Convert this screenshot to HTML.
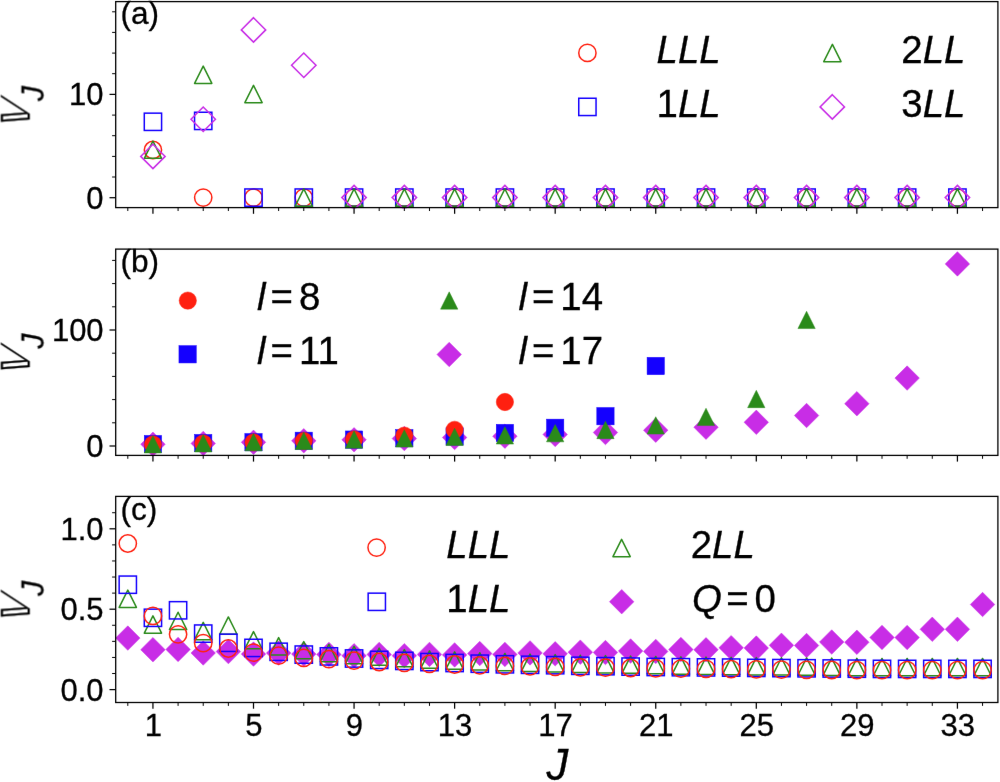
<!DOCTYPE html>
<html lang="en"><head><meta charset="utf-8"><title>Pseudopotentials V_J versus J</title>
<style>
html,body{margin:0;padding:0;background:#fff}
body{width:1000px;height:782px;overflow:hidden}
svg{display:block;will-change:transform}
text{font-family:"Liberation Sans",sans-serif;fill:#000;stroke:#000;stroke-width:0.3px}
.tk{font-size:31px}
.pl{font-size:31.6px}
.lg{font-size:38.4px}
.it{font-style:italic}
.xl{font-size:43.5px;font-style:italic}
.sub{font-size:30px;font-style:italic}
.bb{font-family:"DejaVu Sans","Liberation Sans",sans-serif;font-size:39.4px}
</style></head><body>
<svg width="1000" height="782" viewBox="0 0 1000 782">
<rect width="1000" height="782" fill="#fff"/>
<filter id="soft" filterUnits="userSpaceOnUse" x="0" y="0" width="1000" height="782" color-interpolation-filters="sRGB"><feConvolveMatrix order="3" kernelMatrix="0.00163 0.03713 0.00163 0.03713 0.84497 0.03713 0.00163 0.03713 0.00163" divisor="1" edgeMode="duplicate" preserveAlpha="true"/></filter>
<g filter="url(#soft)">
<rect width="1000" height="782" fill="#fff"/>
<clipPath id="ca"><rect x="115.7" y="1.6" width="882.1999999999999" height="207.0"/></clipPath>
<g clip-path="url(#ca)">
<circle cx="152.94" cy="150.00" r="8.65" fill="none" stroke="#ff2010" stroke-width="1.5"/>
<circle cx="203.22" cy="197.60" r="8.65" fill="none" stroke="#ff2010" stroke-width="1.5"/>
<circle cx="253.50" cy="197.60" r="8.65" fill="none" stroke="#ff2010" stroke-width="1.5"/>
<circle cx="303.78" cy="197.60" r="8.65" fill="none" stroke="#ff2010" stroke-width="1.5"/>
<circle cx="354.06" cy="197.60" r="8.65" fill="none" stroke="#ff2010" stroke-width="1.5"/>
<circle cx="404.34" cy="197.60" r="8.65" fill="none" stroke="#ff2010" stroke-width="1.5"/>
<circle cx="454.62" cy="197.60" r="8.65" fill="none" stroke="#ff2010" stroke-width="1.5"/>
<circle cx="504.90" cy="197.60" r="8.65" fill="none" stroke="#ff2010" stroke-width="1.5"/>
<circle cx="555.18" cy="197.60" r="8.65" fill="none" stroke="#ff2010" stroke-width="1.5"/>
<circle cx="605.46" cy="197.60" r="8.65" fill="none" stroke="#ff2010" stroke-width="1.5"/>
<circle cx="655.74" cy="197.60" r="8.65" fill="none" stroke="#ff2010" stroke-width="1.5"/>
<circle cx="706.02" cy="197.60" r="8.65" fill="none" stroke="#ff2010" stroke-width="1.5"/>
<circle cx="756.30" cy="197.60" r="8.65" fill="none" stroke="#ff2010" stroke-width="1.5"/>
<circle cx="806.58" cy="197.60" r="8.65" fill="none" stroke="#ff2010" stroke-width="1.5"/>
<circle cx="856.86" cy="197.60" r="8.65" fill="none" stroke="#ff2010" stroke-width="1.5"/>
<circle cx="907.14" cy="197.60" r="8.65" fill="none" stroke="#ff2010" stroke-width="1.5"/>
<circle cx="957.42" cy="197.60" r="8.65" fill="none" stroke="#ff2010" stroke-width="1.5"/>
<rect x="144.29" y="113.15" width="17.3" height="17.3" fill="none" stroke="#1400ff" stroke-width="1.5"/>
<rect x="194.57" y="112.25" width="17.3" height="17.3" fill="none" stroke="#1400ff" stroke-width="1.5"/>
<rect x="244.85" y="188.95" width="17.3" height="17.3" fill="none" stroke="#1400ff" stroke-width="1.5"/>
<rect x="295.13" y="188.95" width="17.3" height="17.3" fill="none" stroke="#1400ff" stroke-width="1.5"/>
<rect x="345.41" y="188.95" width="17.3" height="17.3" fill="none" stroke="#1400ff" stroke-width="1.5"/>
<rect x="395.69" y="188.95" width="17.3" height="17.3" fill="none" stroke="#1400ff" stroke-width="1.5"/>
<rect x="445.97" y="188.95" width="17.3" height="17.3" fill="none" stroke="#1400ff" stroke-width="1.5"/>
<rect x="496.25" y="188.95" width="17.3" height="17.3" fill="none" stroke="#1400ff" stroke-width="1.5"/>
<rect x="546.53" y="188.95" width="17.3" height="17.3" fill="none" stroke="#1400ff" stroke-width="1.5"/>
<rect x="596.81" y="188.95" width="17.3" height="17.3" fill="none" stroke="#1400ff" stroke-width="1.5"/>
<rect x="647.09" y="188.95" width="17.3" height="17.3" fill="none" stroke="#1400ff" stroke-width="1.5"/>
<rect x="697.37" y="188.95" width="17.3" height="17.3" fill="none" stroke="#1400ff" stroke-width="1.5"/>
<rect x="747.65" y="188.95" width="17.3" height="17.3" fill="none" stroke="#1400ff" stroke-width="1.5"/>
<rect x="797.93" y="188.95" width="17.3" height="17.3" fill="none" stroke="#1400ff" stroke-width="1.5"/>
<rect x="848.21" y="188.95" width="17.3" height="17.3" fill="none" stroke="#1400ff" stroke-width="1.5"/>
<rect x="898.49" y="188.95" width="17.3" height="17.3" fill="none" stroke="#1400ff" stroke-width="1.5"/>
<rect x="948.77" y="188.95" width="17.3" height="17.3" fill="none" stroke="#1400ff" stroke-width="1.5"/>
<path d="M152.94 141.05L161.59 158.35L144.29 158.35Z" fill="none" stroke="#2a8a1a" stroke-width="1.5" stroke-linejoin="round"/>
<path d="M203.22 66.15L211.87 83.45L194.57 83.45Z" fill="none" stroke="#2a8a1a" stroke-width="1.5" stroke-linejoin="round"/>
<path d="M253.50 85.35L262.15 102.65L244.85 102.65Z" fill="none" stroke="#2a8a1a" stroke-width="1.5" stroke-linejoin="round"/>
<path d="M303.78 188.95L312.43 206.25L295.13 206.25Z" fill="none" stroke="#2a8a1a" stroke-width="1.5" stroke-linejoin="round"/>
<path d="M354.06 188.95L362.71 206.25L345.41 206.25Z" fill="none" stroke="#2a8a1a" stroke-width="1.5" stroke-linejoin="round"/>
<path d="M404.34 188.95L412.99 206.25L395.69 206.25Z" fill="none" stroke="#2a8a1a" stroke-width="1.5" stroke-linejoin="round"/>
<path d="M454.62 188.95L463.27 206.25L445.97 206.25Z" fill="none" stroke="#2a8a1a" stroke-width="1.5" stroke-linejoin="round"/>
<path d="M504.90 188.95L513.55 206.25L496.25 206.25Z" fill="none" stroke="#2a8a1a" stroke-width="1.5" stroke-linejoin="round"/>
<path d="M555.18 188.95L563.83 206.25L546.53 206.25Z" fill="none" stroke="#2a8a1a" stroke-width="1.5" stroke-linejoin="round"/>
<path d="M605.46 188.95L614.11 206.25L596.81 206.25Z" fill="none" stroke="#2a8a1a" stroke-width="1.5" stroke-linejoin="round"/>
<path d="M655.74 188.95L664.39 206.25L647.09 206.25Z" fill="none" stroke="#2a8a1a" stroke-width="1.5" stroke-linejoin="round"/>
<path d="M706.02 188.95L714.67 206.25L697.37 206.25Z" fill="none" stroke="#2a8a1a" stroke-width="1.5" stroke-linejoin="round"/>
<path d="M756.30 188.95L764.95 206.25L747.65 206.25Z" fill="none" stroke="#2a8a1a" stroke-width="1.5" stroke-linejoin="round"/>
<path d="M806.58 188.95L815.23 206.25L797.93 206.25Z" fill="none" stroke="#2a8a1a" stroke-width="1.5" stroke-linejoin="round"/>
<path d="M856.86 188.95L865.51 206.25L848.21 206.25Z" fill="none" stroke="#2a8a1a" stroke-width="1.5" stroke-linejoin="round"/>
<path d="M907.14 188.95L915.79 206.25L898.49 206.25Z" fill="none" stroke="#2a8a1a" stroke-width="1.5" stroke-linejoin="round"/>
<path d="M957.42 188.95L966.07 206.25L948.77 206.25Z" fill="none" stroke="#2a8a1a" stroke-width="1.5" stroke-linejoin="round"/>
<path d="M152.94 144.17L165.17 156.40L152.94 168.63L140.71 156.40Z" fill="none" stroke="#c82de6" stroke-width="1.5" stroke-linejoin="miter"/>
<path d="M203.22 107.07L215.45 119.30L203.22 131.53L190.99 119.30Z" fill="none" stroke="#c82de6" stroke-width="1.5" stroke-linejoin="miter"/>
<path d="M253.50 17.67L265.73 29.90L253.50 42.13L241.27 29.90Z" fill="none" stroke="#c82de6" stroke-width="1.5" stroke-linejoin="miter"/>
<path d="M303.78 53.07L316.01 65.30L303.78 77.53L291.55 65.30Z" fill="none" stroke="#c82de6" stroke-width="1.5" stroke-linejoin="miter"/>
<path d="M354.06 185.37L366.29 197.60L354.06 209.83L341.83 197.60Z" fill="none" stroke="#c82de6" stroke-width="1.5" stroke-linejoin="miter"/>
<path d="M404.34 185.37L416.57 197.60L404.34 209.83L392.11 197.60Z" fill="none" stroke="#c82de6" stroke-width="1.5" stroke-linejoin="miter"/>
<path d="M454.62 185.37L466.85 197.60L454.62 209.83L442.39 197.60Z" fill="none" stroke="#c82de6" stroke-width="1.5" stroke-linejoin="miter"/>
<path d="M504.90 185.37L517.13 197.60L504.90 209.83L492.67 197.60Z" fill="none" stroke="#c82de6" stroke-width="1.5" stroke-linejoin="miter"/>
<path d="M555.18 185.37L567.41 197.60L555.18 209.83L542.95 197.60Z" fill="none" stroke="#c82de6" stroke-width="1.5" stroke-linejoin="miter"/>
<path d="M605.46 185.37L617.69 197.60L605.46 209.83L593.23 197.60Z" fill="none" stroke="#c82de6" stroke-width="1.5" stroke-linejoin="miter"/>
<path d="M655.74 185.37L667.97 197.60L655.74 209.83L643.51 197.60Z" fill="none" stroke="#c82de6" stroke-width="1.5" stroke-linejoin="miter"/>
<path d="M706.02 185.37L718.25 197.60L706.02 209.83L693.79 197.60Z" fill="none" stroke="#c82de6" stroke-width="1.5" stroke-linejoin="miter"/>
<path d="M756.30 185.37L768.53 197.60L756.30 209.83L744.07 197.60Z" fill="none" stroke="#c82de6" stroke-width="1.5" stroke-linejoin="miter"/>
<path d="M806.58 185.37L818.81 197.60L806.58 209.83L794.35 197.60Z" fill="none" stroke="#c82de6" stroke-width="1.5" stroke-linejoin="miter"/>
<path d="M856.86 185.37L869.09 197.60L856.86 209.83L844.63 197.60Z" fill="none" stroke="#c82de6" stroke-width="1.5" stroke-linejoin="miter"/>
<path d="M907.14 185.37L919.37 197.60L907.14 209.83L894.91 197.60Z" fill="none" stroke="#c82de6" stroke-width="1.5" stroke-linejoin="miter"/>
<path d="M957.42 185.37L969.65 197.60L957.42 209.83L945.19 197.60Z" fill="none" stroke="#c82de6" stroke-width="1.5" stroke-linejoin="miter"/>
</g>
<line x1="127.80" y1="207.6" x2="127.80" y2="211.00" stroke="#000" stroke-width="1.0"/>
<line x1="152.94" y1="207.6" x2="152.94" y2="213.80" stroke="#000" stroke-width="1.25"/>
<line x1="178.08" y1="207.6" x2="178.08" y2="211.00" stroke="#000" stroke-width="1.0"/>
<line x1="203.22" y1="207.6" x2="203.22" y2="211.00" stroke="#000" stroke-width="1.0"/>
<line x1="228.36" y1="207.6" x2="228.36" y2="211.00" stroke="#000" stroke-width="1.0"/>
<line x1="253.50" y1="207.6" x2="253.50" y2="213.80" stroke="#000" stroke-width="1.25"/>
<line x1="278.64" y1="207.6" x2="278.64" y2="211.00" stroke="#000" stroke-width="1.0"/>
<line x1="303.78" y1="207.6" x2="303.78" y2="211.00" stroke="#000" stroke-width="1.0"/>
<line x1="328.92" y1="207.6" x2="328.92" y2="211.00" stroke="#000" stroke-width="1.0"/>
<line x1="354.06" y1="207.6" x2="354.06" y2="213.80" stroke="#000" stroke-width="1.25"/>
<line x1="379.20" y1="207.6" x2="379.20" y2="211.00" stroke="#000" stroke-width="1.0"/>
<line x1="404.34" y1="207.6" x2="404.34" y2="211.00" stroke="#000" stroke-width="1.0"/>
<line x1="429.48" y1="207.6" x2="429.48" y2="211.00" stroke="#000" stroke-width="1.0"/>
<line x1="454.62" y1="207.6" x2="454.62" y2="213.80" stroke="#000" stroke-width="1.25"/>
<line x1="479.76" y1="207.6" x2="479.76" y2="211.00" stroke="#000" stroke-width="1.0"/>
<line x1="504.90" y1="207.6" x2="504.90" y2="211.00" stroke="#000" stroke-width="1.0"/>
<line x1="530.04" y1="207.6" x2="530.04" y2="211.00" stroke="#000" stroke-width="1.0"/>
<line x1="555.18" y1="207.6" x2="555.18" y2="213.80" stroke="#000" stroke-width="1.25"/>
<line x1="580.32" y1="207.6" x2="580.32" y2="211.00" stroke="#000" stroke-width="1.0"/>
<line x1="605.46" y1="207.6" x2="605.46" y2="211.00" stroke="#000" stroke-width="1.0"/>
<line x1="630.60" y1="207.6" x2="630.60" y2="211.00" stroke="#000" stroke-width="1.0"/>
<line x1="655.74" y1="207.6" x2="655.74" y2="213.80" stroke="#000" stroke-width="1.25"/>
<line x1="680.88" y1="207.6" x2="680.88" y2="211.00" stroke="#000" stroke-width="1.0"/>
<line x1="706.02" y1="207.6" x2="706.02" y2="211.00" stroke="#000" stroke-width="1.0"/>
<line x1="731.16" y1="207.6" x2="731.16" y2="211.00" stroke="#000" stroke-width="1.0"/>
<line x1="756.30" y1="207.6" x2="756.30" y2="213.80" stroke="#000" stroke-width="1.25"/>
<line x1="781.44" y1="207.6" x2="781.44" y2="211.00" stroke="#000" stroke-width="1.0"/>
<line x1="806.58" y1="207.6" x2="806.58" y2="211.00" stroke="#000" stroke-width="1.0"/>
<line x1="831.72" y1="207.6" x2="831.72" y2="211.00" stroke="#000" stroke-width="1.0"/>
<line x1="856.86" y1="207.6" x2="856.86" y2="213.80" stroke="#000" stroke-width="1.25"/>
<line x1="882.00" y1="207.6" x2="882.00" y2="211.00" stroke="#000" stroke-width="1.0"/>
<line x1="907.14" y1="207.6" x2="907.14" y2="211.00" stroke="#000" stroke-width="1.0"/>
<line x1="932.28" y1="207.6" x2="932.28" y2="211.00" stroke="#000" stroke-width="1.0"/>
<line x1="957.42" y1="207.6" x2="957.42" y2="213.80" stroke="#000" stroke-width="1.25"/>
<line x1="982.56" y1="207.6" x2="982.56" y2="211.00" stroke="#000" stroke-width="1.0"/>
<line x1="115.7" y1="197.70" x2="109.50" y2="197.70" stroke="#000" stroke-width="1.25"/>
<text transform="translate(103.60 208.60) scale(1 1.04)" class="tk" text-anchor="end">0</text>
<line x1="115.7" y1="94.40" x2="109.50" y2="94.40" stroke="#000" stroke-width="1.25"/>
<text transform="translate(103.60 105.30) scale(1 1.04)" class="tk" text-anchor="end">10</text>
<line x1="115.7" y1="177.00" x2="112.10" y2="177.00" stroke="#000" stroke-width="1.0"/>
<line x1="115.7" y1="156.40" x2="112.10" y2="156.40" stroke="#000" stroke-width="1.0"/>
<line x1="115.7" y1="135.70" x2="112.10" y2="135.70" stroke="#000" stroke-width="1.0"/>
<line x1="115.7" y1="115.10" x2="112.10" y2="115.10" stroke="#000" stroke-width="1.0"/>
<line x1="115.7" y1="73.70" x2="112.10" y2="73.70" stroke="#000" stroke-width="1.0"/>
<line x1="115.7" y1="53.10" x2="112.10" y2="53.10" stroke="#000" stroke-width="1.0"/>
<line x1="115.7" y1="32.40" x2="112.10" y2="32.40" stroke="#000" stroke-width="1.0"/>
<line x1="115.7" y1="11.80" x2="112.10" y2="11.80" stroke="#000" stroke-width="1.0"/>
<rect x="115.7" y="1.6" width="882.20" height="206.00" fill="none" stroke="#000" stroke-width="1.3"/>
<text x="120.4" y="24.0" class="pl">(a)</text>
<g transform="translate(29.6 121.50) rotate(-90)"><text x="-9.0" y="0" class="bb" transform="skewX(-16) scale(0.96 1)">&#x1D54D;</text><text transform="translate(20.5 13.6) scale(1 1.04)" class="sub">J</text></g>
<circle cx="587.40" cy="52.90" r="8.65" fill="none" stroke="#ff2010" stroke-width="1.5"/>
<rect x="578.75" y="98.25" width="17.3" height="17.3" fill="none" stroke="#1400ff" stroke-width="1.5"/>
<path d="M832.40 44.35L841.05 61.65L823.75 61.65Z" fill="none" stroke="#2a8a1a" stroke-width="1.5" stroke-linejoin="round"/>
<path d="M832.30 94.67L844.53 106.90L832.30 119.13L820.07 106.90Z" fill="none" stroke="#c82de6" stroke-width="1.5" stroke-linejoin="miter"/>
<text transform="translate(656.60 63.20) scale(1 1.02)" class="lg"><tspan class="it">LLL</tspan></text>
<text transform="translate(656.60 117.20) scale(1 1.02)" class="lg">1<tspan class="it">LL</tspan></text>
<text transform="translate(901.30 63.20) scale(1 1.02)" class="lg">2<tspan class="it">LL</tspan></text>
<text transform="translate(901.30 117.20) scale(1 1.02)" class="lg">3<tspan class="it">LL</tspan></text>
<clipPath id="cb"><rect x="115.7" y="249.1" width="882.1999999999999" height="207.29999999999998"/></clipPath>
<g clip-path="url(#cb)">
<path d="M152.94 432.07L165.17 444.30L152.94 456.53L140.71 444.30Z" fill="#c82de6" stroke="#c82de6" stroke-width="0.5" stroke-linejoin="miter"/>
<path d="M203.22 431.17L215.45 443.40L203.22 455.63L190.99 443.40Z" fill="#c82de6" stroke="#c82de6" stroke-width="0.5" stroke-linejoin="miter"/>
<path d="M253.50 430.07L265.73 442.30L253.50 454.53L241.27 442.30Z" fill="#c82de6" stroke="#c82de6" stroke-width="0.5" stroke-linejoin="miter"/>
<path d="M303.78 428.57L316.01 440.80L303.78 453.03L291.55 440.80Z" fill="#c82de6" stroke="#c82de6" stroke-width="0.5" stroke-linejoin="miter"/>
<path d="M354.06 427.57L366.29 439.80L354.06 452.03L341.83 439.80Z" fill="#c82de6" stroke="#c82de6" stroke-width="0.5" stroke-linejoin="miter"/>
<path d="M404.34 426.37L416.57 438.60L404.34 450.83L392.11 438.60Z" fill="#c82de6" stroke="#c82de6" stroke-width="0.5" stroke-linejoin="miter"/>
<path d="M454.62 425.27L466.85 437.50L454.62 449.73L442.39 437.50Z" fill="#c82de6" stroke="#c82de6" stroke-width="0.5" stroke-linejoin="miter"/>
<path d="M504.90 423.97L517.13 436.20L504.90 448.43L492.67 436.20Z" fill="#c82de6" stroke="#c82de6" stroke-width="0.5" stroke-linejoin="miter"/>
<path d="M555.18 422.17L567.41 434.40L555.18 446.63L542.95 434.40Z" fill="#c82de6" stroke="#c82de6" stroke-width="0.5" stroke-linejoin="miter"/>
<path d="M605.46 420.27L617.69 432.50L605.46 444.73L593.23 432.50Z" fill="#c82de6" stroke="#c82de6" stroke-width="0.5" stroke-linejoin="miter"/>
<path d="M655.74 417.97L667.97 430.20L655.74 442.43L643.51 430.20Z" fill="#c82de6" stroke="#c82de6" stroke-width="0.5" stroke-linejoin="miter"/>
<path d="M706.02 414.97L718.25 427.20L706.02 439.43L693.79 427.20Z" fill="#c82de6" stroke="#c82de6" stroke-width="0.5" stroke-linejoin="miter"/>
<path d="M756.30 410.07L768.53 422.30L756.30 434.53L744.07 422.30Z" fill="#c82de6" stroke="#c82de6" stroke-width="0.5" stroke-linejoin="miter"/>
<path d="M806.58 403.27L818.81 415.50L806.58 427.73L794.35 415.50Z" fill="#c82de6" stroke="#c82de6" stroke-width="0.5" stroke-linejoin="miter"/>
<path d="M856.86 391.47L869.09 403.70L856.86 415.93L844.63 403.70Z" fill="#c82de6" stroke="#c82de6" stroke-width="0.5" stroke-linejoin="miter"/>
<path d="M907.14 365.87L919.37 378.10L907.14 390.33L894.91 378.10Z" fill="#c82de6" stroke="#c82de6" stroke-width="0.5" stroke-linejoin="miter"/>
<path d="M957.42 251.67L969.65 263.90L957.42 276.13L945.19 263.90Z" fill="#c82de6" stroke="#c82de6" stroke-width="0.5" stroke-linejoin="miter"/>
<rect x="144.29" y="435.45" width="17.3" height="17.3" fill="#1400ff" stroke="#1400ff" stroke-width="0.5"/>
<rect x="194.57" y="434.45" width="17.3" height="17.3" fill="#1400ff" stroke="#1400ff" stroke-width="0.5"/>
<rect x="244.85" y="433.55" width="17.3" height="17.3" fill="#1400ff" stroke="#1400ff" stroke-width="0.5"/>
<rect x="295.13" y="432.15" width="17.3" height="17.3" fill="#1400ff" stroke="#1400ff" stroke-width="0.5"/>
<rect x="345.41" y="430.95" width="17.3" height="17.3" fill="#1400ff" stroke="#1400ff" stroke-width="0.5"/>
<rect x="395.69" y="429.55" width="17.3" height="17.3" fill="#1400ff" stroke="#1400ff" stroke-width="0.5"/>
<rect x="445.97" y="427.75" width="17.3" height="17.3" fill="#1400ff" stroke="#1400ff" stroke-width="0.5"/>
<rect x="496.25" y="424.35" width="17.3" height="17.3" fill="#1400ff" stroke="#1400ff" stroke-width="0.5"/>
<rect x="546.53" y="419.15" width="17.3" height="17.3" fill="#1400ff" stroke="#1400ff" stroke-width="0.5"/>
<rect x="596.81" y="407.55" width="17.3" height="17.3" fill="#1400ff" stroke="#1400ff" stroke-width="0.5"/>
<rect x="647.09" y="357.35" width="17.3" height="17.3" fill="#1400ff" stroke="#1400ff" stroke-width="0.5"/>
<circle cx="152.94" cy="444.40" r="8.65" fill="#ff2010" stroke="#ff2010" stroke-width="0.5"/>
<circle cx="203.22" cy="443.40" r="8.65" fill="#ff2010" stroke="#ff2010" stroke-width="0.5"/>
<circle cx="253.50" cy="442.40" r="8.65" fill="#ff2010" stroke="#ff2010" stroke-width="0.5"/>
<circle cx="303.78" cy="440.80" r="8.65" fill="#ff2010" stroke="#ff2010" stroke-width="0.5"/>
<circle cx="354.06" cy="439.30" r="8.65" fill="#ff2010" stroke="#ff2010" stroke-width="0.5"/>
<circle cx="404.34" cy="435.60" r="8.65" fill="#ff2010" stroke="#ff2010" stroke-width="0.5"/>
<circle cx="454.62" cy="429.80" r="8.65" fill="#ff2010" stroke="#ff2010" stroke-width="0.5"/>
<circle cx="504.90" cy="402.00" r="8.65" fill="#ff2010" stroke="#ff2010" stroke-width="0.5"/>
<path d="M152.94 435.65L161.59 452.95L144.29 452.95Z" fill="#2a8a1a" stroke="#2a8a1a" stroke-width="0.5" stroke-linejoin="round"/>
<path d="M203.22 434.65L211.87 451.95L194.57 451.95Z" fill="#2a8a1a" stroke="#2a8a1a" stroke-width="0.5" stroke-linejoin="round"/>
<path d="M253.50 433.55L262.15 450.85L244.85 450.85Z" fill="#2a8a1a" stroke="#2a8a1a" stroke-width="0.5" stroke-linejoin="round"/>
<path d="M303.78 432.15L312.43 449.45L295.13 449.45Z" fill="#2a8a1a" stroke="#2a8a1a" stroke-width="0.5" stroke-linejoin="round"/>
<path d="M354.06 430.85L362.71 448.15L345.41 448.15Z" fill="#2a8a1a" stroke="#2a8a1a" stroke-width="0.5" stroke-linejoin="round"/>
<path d="M404.34 429.75L412.99 447.05L395.69 447.05Z" fill="#2a8a1a" stroke="#2a8a1a" stroke-width="0.5" stroke-linejoin="round"/>
<path d="M454.62 428.15L463.27 445.45L445.97 445.45Z" fill="#2a8a1a" stroke="#2a8a1a" stroke-width="0.5" stroke-linejoin="round"/>
<path d="M504.90 426.75L513.55 444.05L496.25 444.05Z" fill="#2a8a1a" stroke="#2a8a1a" stroke-width="0.5" stroke-linejoin="round"/>
<path d="M555.18 424.55L563.83 441.85L546.53 441.85Z" fill="#2a8a1a" stroke="#2a8a1a" stroke-width="0.5" stroke-linejoin="round"/>
<path d="M605.46 421.35L614.11 438.65L596.81 438.65Z" fill="#2a8a1a" stroke="#2a8a1a" stroke-width="0.5" stroke-linejoin="round"/>
<path d="M655.74 416.75L664.39 434.05L647.09 434.05Z" fill="#2a8a1a" stroke="#2a8a1a" stroke-width="0.5" stroke-linejoin="round"/>
<path d="M706.02 408.25L714.67 425.55L697.37 425.55Z" fill="#2a8a1a" stroke="#2a8a1a" stroke-width="0.5" stroke-linejoin="round"/>
<path d="M756.30 390.35L764.95 407.65L747.65 407.65Z" fill="#2a8a1a" stroke="#2a8a1a" stroke-width="0.5" stroke-linejoin="round"/>
<path d="M806.58 311.25L815.23 328.55L797.93 328.55Z" fill="#2a8a1a" stroke="#2a8a1a" stroke-width="0.5" stroke-linejoin="round"/>
</g>
<line x1="127.80" y1="455.4" x2="127.80" y2="458.80" stroke="#000" stroke-width="1.0"/>
<line x1="152.94" y1="455.4" x2="152.94" y2="461.60" stroke="#000" stroke-width="1.25"/>
<line x1="178.08" y1="455.4" x2="178.08" y2="458.80" stroke="#000" stroke-width="1.0"/>
<line x1="203.22" y1="455.4" x2="203.22" y2="458.80" stroke="#000" stroke-width="1.0"/>
<line x1="228.36" y1="455.4" x2="228.36" y2="458.80" stroke="#000" stroke-width="1.0"/>
<line x1="253.50" y1="455.4" x2="253.50" y2="461.60" stroke="#000" stroke-width="1.25"/>
<line x1="278.64" y1="455.4" x2="278.64" y2="458.80" stroke="#000" stroke-width="1.0"/>
<line x1="303.78" y1="455.4" x2="303.78" y2="458.80" stroke="#000" stroke-width="1.0"/>
<line x1="328.92" y1="455.4" x2="328.92" y2="458.80" stroke="#000" stroke-width="1.0"/>
<line x1="354.06" y1="455.4" x2="354.06" y2="461.60" stroke="#000" stroke-width="1.25"/>
<line x1="379.20" y1="455.4" x2="379.20" y2="458.80" stroke="#000" stroke-width="1.0"/>
<line x1="404.34" y1="455.4" x2="404.34" y2="458.80" stroke="#000" stroke-width="1.0"/>
<line x1="429.48" y1="455.4" x2="429.48" y2="458.80" stroke="#000" stroke-width="1.0"/>
<line x1="454.62" y1="455.4" x2="454.62" y2="461.60" stroke="#000" stroke-width="1.25"/>
<line x1="479.76" y1="455.4" x2="479.76" y2="458.80" stroke="#000" stroke-width="1.0"/>
<line x1="504.90" y1="455.4" x2="504.90" y2="458.80" stroke="#000" stroke-width="1.0"/>
<line x1="530.04" y1="455.4" x2="530.04" y2="458.80" stroke="#000" stroke-width="1.0"/>
<line x1="555.18" y1="455.4" x2="555.18" y2="461.60" stroke="#000" stroke-width="1.25"/>
<line x1="580.32" y1="455.4" x2="580.32" y2="458.80" stroke="#000" stroke-width="1.0"/>
<line x1="605.46" y1="455.4" x2="605.46" y2="458.80" stroke="#000" stroke-width="1.0"/>
<line x1="630.60" y1="455.4" x2="630.60" y2="458.80" stroke="#000" stroke-width="1.0"/>
<line x1="655.74" y1="455.4" x2="655.74" y2="461.60" stroke="#000" stroke-width="1.25"/>
<line x1="680.88" y1="455.4" x2="680.88" y2="458.80" stroke="#000" stroke-width="1.0"/>
<line x1="706.02" y1="455.4" x2="706.02" y2="458.80" stroke="#000" stroke-width="1.0"/>
<line x1="731.16" y1="455.4" x2="731.16" y2="458.80" stroke="#000" stroke-width="1.0"/>
<line x1="756.30" y1="455.4" x2="756.30" y2="461.60" stroke="#000" stroke-width="1.25"/>
<line x1="781.44" y1="455.4" x2="781.44" y2="458.80" stroke="#000" stroke-width="1.0"/>
<line x1="806.58" y1="455.4" x2="806.58" y2="458.80" stroke="#000" stroke-width="1.0"/>
<line x1="831.72" y1="455.4" x2="831.72" y2="458.80" stroke="#000" stroke-width="1.0"/>
<line x1="856.86" y1="455.4" x2="856.86" y2="461.60" stroke="#000" stroke-width="1.25"/>
<line x1="882.00" y1="455.4" x2="882.00" y2="458.80" stroke="#000" stroke-width="1.0"/>
<line x1="907.14" y1="455.4" x2="907.14" y2="458.80" stroke="#000" stroke-width="1.0"/>
<line x1="932.28" y1="455.4" x2="932.28" y2="458.80" stroke="#000" stroke-width="1.0"/>
<line x1="957.42" y1="455.4" x2="957.42" y2="461.60" stroke="#000" stroke-width="1.25"/>
<line x1="982.56" y1="455.4" x2="982.56" y2="458.80" stroke="#000" stroke-width="1.0"/>
<line x1="115.7" y1="446.00" x2="109.50" y2="446.00" stroke="#000" stroke-width="1.25"/>
<text transform="translate(103.60 456.90) scale(1 1.04)" class="tk" text-anchor="end">0</text>
<line x1="115.7" y1="330.00" x2="109.50" y2="330.00" stroke="#000" stroke-width="1.25"/>
<text transform="translate(103.60 340.90) scale(1 1.04)" class="tk" text-anchor="end">100</text>
<line x1="115.7" y1="422.80" x2="112.10" y2="422.80" stroke="#000" stroke-width="1.0"/>
<line x1="115.7" y1="399.60" x2="112.10" y2="399.60" stroke="#000" stroke-width="1.0"/>
<line x1="115.7" y1="376.40" x2="112.10" y2="376.40" stroke="#000" stroke-width="1.0"/>
<line x1="115.7" y1="353.20" x2="112.10" y2="353.20" stroke="#000" stroke-width="1.0"/>
<line x1="115.7" y1="306.80" x2="112.10" y2="306.80" stroke="#000" stroke-width="1.0"/>
<line x1="115.7" y1="283.60" x2="112.10" y2="283.60" stroke="#000" stroke-width="1.0"/>
<line x1="115.7" y1="260.40" x2="112.10" y2="260.40" stroke="#000" stroke-width="1.0"/>
<rect x="115.7" y="249.1" width="882.20" height="206.30" fill="none" stroke="#000" stroke-width="1.3"/>
<text x="120.4" y="272.3" class="pl">(b)</text>
<g transform="translate(29.6 369.10) rotate(-90)"><text x="-9.0" y="0" class="bb" transform="skewX(-16) scale(0.96 1)">&#x1D54D;</text><text transform="translate(20.5 13.6) scale(1 1.04)" class="sub">J</text></g>
<circle cx="187.80" cy="300.60" r="8.65" fill="#ff2010" stroke="#ff2010" stroke-width="0.5"/>
<rect x="178.95" y="345.65" width="17.3" height="17.3" fill="#1400ff" stroke="#1400ff" stroke-width="0.5"/>
<path d="M449.20 291.85L457.85 309.15L440.55 309.15Z" fill="#2a8a1a" stroke="#2a8a1a" stroke-width="0.5" stroke-linejoin="round"/>
<path d="M449.20 342.27L461.43 354.50L449.20 366.73L436.97 354.50Z" fill="#c82de6" stroke="#c82de6" stroke-width="0.5" stroke-linejoin="miter"/>
<text transform="translate(257.00 310.00) scale(1 1.02)" class="lg"><tspan class="it">l</tspan><tspan dx="5.0">=</tspan><tspan dx="6.0">8</tspan></text>
<text transform="translate(257.00 363.60) scale(1 1.02)" class="lg"><tspan class="it">l</tspan><tspan dx="5.0">=</tspan><tspan dx="6.0">11</tspan></text>
<text transform="translate(518.40 310.00) scale(1 1.02)" class="lg"><tspan class="it">l</tspan><tspan dx="5.0">=</tspan><tspan dx="6.0">14</tspan></text>
<text transform="translate(518.40 363.60) scale(1 1.02)" class="lg"><tspan class="it">l</tspan><tspan dx="5.0">=</tspan><tspan dx="6.0">17</tspan></text>
<clipPath id="cc"><rect x="115.7" y="496.4" width="882.1999999999999" height="207.10000000000002"/></clipPath>
<g clip-path="url(#cc)">
<path d="M127.80 625.87L140.03 638.10L127.80 650.33L115.57 638.10Z" fill="#c82de6" stroke="#c82de6" stroke-width="0.5" stroke-linejoin="miter"/>
<path d="M152.94 637.47L165.17 649.70L152.94 661.93L140.71 649.70Z" fill="#c82de6" stroke="#c82de6" stroke-width="0.5" stroke-linejoin="miter"/>
<path d="M178.08 637.17L190.31 649.40L178.08 661.63L165.85 649.40Z" fill="#c82de6" stroke="#c82de6" stroke-width="0.5" stroke-linejoin="miter"/>
<path d="M203.22 640.77L215.45 653.00L203.22 665.23L190.99 653.00Z" fill="#c82de6" stroke="#c82de6" stroke-width="0.5" stroke-linejoin="miter"/>
<path d="M228.36 639.37L240.59 651.60L228.36 663.83L216.13 651.60Z" fill="#c82de6" stroke="#c82de6" stroke-width="0.5" stroke-linejoin="miter"/>
<path d="M253.50 641.87L265.73 654.10L253.50 666.33L241.27 654.10Z" fill="#c82de6" stroke="#c82de6" stroke-width="0.5" stroke-linejoin="miter"/>
<path d="M278.64 640.87L290.87 653.10L278.64 665.33L266.41 653.10Z" fill="#c82de6" stroke="#c82de6" stroke-width="0.5" stroke-linejoin="miter"/>
<path d="M303.78 641.87L316.01 654.10L303.78 666.33L291.55 654.10Z" fill="#c82de6" stroke="#c82de6" stroke-width="0.5" stroke-linejoin="miter"/>
<path d="M328.92 642.17L341.15 654.40L328.92 666.63L316.69 654.40Z" fill="#c82de6" stroke="#c82de6" stroke-width="0.5" stroke-linejoin="miter"/>
<path d="M354.06 643.47L366.29 655.70L354.06 667.93L341.83 655.70Z" fill="#c82de6" stroke="#c82de6" stroke-width="0.5" stroke-linejoin="miter"/>
<path d="M379.20 642.17L391.43 654.40L379.20 666.63L366.97 654.40Z" fill="#c82de6" stroke="#c82de6" stroke-width="0.5" stroke-linejoin="miter"/>
<path d="M404.34 643.47L416.57 655.70L404.34 667.93L392.11 655.70Z" fill="#c82de6" stroke="#c82de6" stroke-width="0.5" stroke-linejoin="miter"/>
<path d="M429.48 642.17L441.71 654.40L429.48 666.63L417.25 654.40Z" fill="#c82de6" stroke="#c82de6" stroke-width="0.5" stroke-linejoin="miter"/>
<path d="M454.62 642.67L466.85 654.90L454.62 667.13L442.39 654.90Z" fill="#c82de6" stroke="#c82de6" stroke-width="0.5" stroke-linejoin="miter"/>
<path d="M479.76 641.37L491.99 653.60L479.76 665.83L467.53 653.60Z" fill="#c82de6" stroke="#c82de6" stroke-width="0.5" stroke-linejoin="miter"/>
<path d="M504.90 642.17L517.13 654.40L504.90 666.63L492.67 654.40Z" fill="#c82de6" stroke="#c82de6" stroke-width="0.5" stroke-linejoin="miter"/>
<path d="M530.04 640.67L542.27 652.90L530.04 665.13L517.81 652.90Z" fill="#c82de6" stroke="#c82de6" stroke-width="0.5" stroke-linejoin="miter"/>
<path d="M555.18 641.57L567.41 653.80L555.18 666.03L542.95 653.80Z" fill="#c82de6" stroke="#c82de6" stroke-width="0.5" stroke-linejoin="miter"/>
<path d="M580.32 639.92L592.55 652.15L580.32 664.38L568.09 652.15Z" fill="#c82de6" stroke="#c82de6" stroke-width="0.5" stroke-linejoin="miter"/>
<path d="M605.46 640.27L617.69 652.50L605.46 664.73L593.23 652.50Z" fill="#c82de6" stroke="#c82de6" stroke-width="0.5" stroke-linejoin="miter"/>
<path d="M630.60 638.77L642.83 651.00L630.60 663.23L618.37 651.00Z" fill="#c82de6" stroke="#c82de6" stroke-width="0.5" stroke-linejoin="miter"/>
<path d="M655.74 639.17L667.97 651.40L655.74 663.63L643.51 651.40Z" fill="#c82de6" stroke="#c82de6" stroke-width="0.5" stroke-linejoin="miter"/>
<path d="M680.88 637.32L693.11 649.55L680.88 661.78L668.65 649.55Z" fill="#c82de6" stroke="#c82de6" stroke-width="0.5" stroke-linejoin="miter"/>
<path d="M706.02 637.57L718.25 649.80L706.02 662.03L693.79 649.80Z" fill="#c82de6" stroke="#c82de6" stroke-width="0.5" stroke-linejoin="miter"/>
<path d="M731.16 635.47L743.39 647.70L731.16 659.93L718.93 647.70Z" fill="#c82de6" stroke="#c82de6" stroke-width="0.5" stroke-linejoin="miter"/>
<path d="M756.30 635.87L768.53 648.10L756.30 660.33L744.07 648.10Z" fill="#c82de6" stroke="#c82de6" stroke-width="0.5" stroke-linejoin="miter"/>
<path d="M781.44 633.07L793.67 645.30L781.44 657.53L769.21 645.30Z" fill="#c82de6" stroke="#c82de6" stroke-width="0.5" stroke-linejoin="miter"/>
<path d="M806.58 633.27L818.81 645.50L806.58 657.73L794.35 645.50Z" fill="#c82de6" stroke="#c82de6" stroke-width="0.5" stroke-linejoin="miter"/>
<path d="M831.72 629.77L843.95 642.00L831.72 654.23L819.49 642.00Z" fill="#c82de6" stroke="#c82de6" stroke-width="0.5" stroke-linejoin="miter"/>
<path d="M856.86 630.07L869.09 642.30L856.86 654.53L844.63 642.30Z" fill="#c82de6" stroke="#c82de6" stroke-width="0.5" stroke-linejoin="miter"/>
<path d="M882.00 625.17L894.23 637.40L882.00 649.63L869.77 637.40Z" fill="#c82de6" stroke="#c82de6" stroke-width="0.5" stroke-linejoin="miter"/>
<path d="M907.14 625.27L919.37 637.50L907.14 649.73L894.91 637.50Z" fill="#c82de6" stroke="#c82de6" stroke-width="0.5" stroke-linejoin="miter"/>
<path d="M932.28 617.07L944.51 629.30L932.28 641.53L920.05 629.30Z" fill="#c82de6" stroke="#c82de6" stroke-width="0.5" stroke-linejoin="miter"/>
<path d="M957.42 617.07L969.65 629.30L957.42 641.53L945.19 629.30Z" fill="#c82de6" stroke="#c82de6" stroke-width="0.5" stroke-linejoin="miter"/>
<path d="M982.56 592.27L994.79 604.50L982.56 616.73L970.33 604.50Z" fill="#c82de6" stroke="#c82de6" stroke-width="0.5" stroke-linejoin="miter"/>
<path d="M127.80 590.15L136.45 607.45L119.15 607.45Z" fill="none" stroke="#2a8a1a" stroke-width="1.5" stroke-linejoin="round"/>
<path d="M152.94 615.85L161.59 633.15L144.29 633.15Z" fill="none" stroke="#2a8a1a" stroke-width="1.5" stroke-linejoin="round"/>
<path d="M178.08 612.25L186.73 629.55L169.43 629.55Z" fill="none" stroke="#2a8a1a" stroke-width="1.5" stroke-linejoin="round"/>
<path d="M203.22 622.35L211.87 639.65L194.57 639.65Z" fill="none" stroke="#2a8a1a" stroke-width="1.5" stroke-linejoin="round"/>
<path d="M228.36 616.95L237.01 634.25L219.71 634.25Z" fill="none" stroke="#2a8a1a" stroke-width="1.5" stroke-linejoin="round"/>
<path d="M253.50 631.55L262.15 648.85L244.85 648.85Z" fill="none" stroke="#2a8a1a" stroke-width="1.5" stroke-linejoin="round"/>
<path d="M278.64 637.65L287.29 654.95L269.99 654.95Z" fill="none" stroke="#2a8a1a" stroke-width="1.5" stroke-linejoin="round"/>
<path d="M303.78 641.55L312.43 658.85L295.13 658.85Z" fill="none" stroke="#2a8a1a" stroke-width="1.5" stroke-linejoin="round"/>
<path d="M328.92 644.45L337.57 661.75L320.27 661.75Z" fill="none" stroke="#2a8a1a" stroke-width="1.5" stroke-linejoin="round"/>
<path d="M354.06 646.45L362.71 663.75L345.41 663.75Z" fill="none" stroke="#2a8a1a" stroke-width="1.5" stroke-linejoin="round"/>
<path d="M379.20 648.05L387.85 665.35L370.55 665.35Z" fill="none" stroke="#2a8a1a" stroke-width="1.5" stroke-linejoin="round"/>
<path d="M404.34 649.55L412.99 666.85L395.69 666.85Z" fill="none" stroke="#2a8a1a" stroke-width="1.5" stroke-linejoin="round"/>
<path d="M429.48 650.85L438.13 668.15L420.83 668.15Z" fill="none" stroke="#2a8a1a" stroke-width="1.5" stroke-linejoin="round"/>
<path d="M454.62 651.85L463.27 669.15L445.97 669.15Z" fill="none" stroke="#2a8a1a" stroke-width="1.5" stroke-linejoin="round"/>
<path d="M479.76 652.75L488.41 670.05L471.11 670.05Z" fill="none" stroke="#2a8a1a" stroke-width="1.5" stroke-linejoin="round"/>
<path d="M504.90 653.45L513.55 670.75L496.25 670.75Z" fill="none" stroke="#2a8a1a" stroke-width="1.5" stroke-linejoin="round"/>
<path d="M530.04 654.15L538.69 671.45L521.39 671.45Z" fill="none" stroke="#2a8a1a" stroke-width="1.5" stroke-linejoin="round"/>
<path d="M555.18 654.65L563.83 671.95L546.53 671.95Z" fill="none" stroke="#2a8a1a" stroke-width="1.5" stroke-linejoin="round"/>
<path d="M580.32 655.25L588.97 672.55L571.67 672.55Z" fill="none" stroke="#2a8a1a" stroke-width="1.5" stroke-linejoin="round"/>
<path d="M605.46 655.65L614.11 672.95L596.81 672.95Z" fill="none" stroke="#2a8a1a" stroke-width="1.5" stroke-linejoin="round"/>
<path d="M630.60 656.05L639.25 673.35L621.95 673.35Z" fill="none" stroke="#2a8a1a" stroke-width="1.5" stroke-linejoin="round"/>
<path d="M655.74 656.45L664.39 673.75L647.09 673.75Z" fill="none" stroke="#2a8a1a" stroke-width="1.5" stroke-linejoin="round"/>
<path d="M680.88 656.85L689.53 674.15L672.23 674.15Z" fill="none" stroke="#2a8a1a" stroke-width="1.5" stroke-linejoin="round"/>
<path d="M706.02 657.15L714.67 674.45L697.37 674.45Z" fill="none" stroke="#2a8a1a" stroke-width="1.5" stroke-linejoin="round"/>
<path d="M731.16 657.35L739.81 674.65L722.51 674.65Z" fill="none" stroke="#2a8a1a" stroke-width="1.5" stroke-linejoin="round"/>
<path d="M756.30 657.60L764.95 674.90L747.65 674.90Z" fill="none" stroke="#2a8a1a" stroke-width="1.5" stroke-linejoin="round"/>
<path d="M781.44 657.75L790.09 675.05L772.79 675.05Z" fill="none" stroke="#2a8a1a" stroke-width="1.5" stroke-linejoin="round"/>
<path d="M806.58 657.95L815.23 675.25L797.93 675.25Z" fill="none" stroke="#2a8a1a" stroke-width="1.5" stroke-linejoin="round"/>
<path d="M831.72 658.15L840.37 675.45L823.07 675.45Z" fill="none" stroke="#2a8a1a" stroke-width="1.5" stroke-linejoin="round"/>
<path d="M856.86 658.35L865.51 675.65L848.21 675.65Z" fill="none" stroke="#2a8a1a" stroke-width="1.5" stroke-linejoin="round"/>
<path d="M882.00 658.45L890.65 675.75L873.35 675.75Z" fill="none" stroke="#2a8a1a" stroke-width="1.5" stroke-linejoin="round"/>
<path d="M907.14 658.45L915.79 675.75L898.49 675.75Z" fill="none" stroke="#2a8a1a" stroke-width="1.5" stroke-linejoin="round"/>
<path d="M932.28 658.45L940.93 675.75L923.63 675.75Z" fill="none" stroke="#2a8a1a" stroke-width="1.5" stroke-linejoin="round"/>
<path d="M957.42 658.45L966.07 675.75L948.77 675.75Z" fill="none" stroke="#2a8a1a" stroke-width="1.5" stroke-linejoin="round"/>
<path d="M982.56 658.45L991.21 675.75L973.91 675.75Z" fill="none" stroke="#2a8a1a" stroke-width="1.5" stroke-linejoin="round"/>
<rect x="119.15" y="576.05" width="17.3" height="17.3" fill="none" stroke="#1400ff" stroke-width="1.5"/>
<rect x="144.29" y="609.15" width="17.3" height="17.3" fill="none" stroke="#1400ff" stroke-width="1.5"/>
<rect x="169.43" y="601.65" width="17.3" height="17.3" fill="none" stroke="#1400ff" stroke-width="1.5"/>
<rect x="194.57" y="624.95" width="17.3" height="17.3" fill="none" stroke="#1400ff" stroke-width="1.5"/>
<rect x="219.71" y="634.15" width="17.3" height="17.3" fill="none" stroke="#1400ff" stroke-width="1.5"/>
<rect x="244.85" y="639.25" width="17.3" height="17.3" fill="none" stroke="#1400ff" stroke-width="1.5"/>
<rect x="269.99" y="643.15" width="17.3" height="17.3" fill="none" stroke="#1400ff" stroke-width="1.5"/>
<rect x="295.13" y="645.95" width="17.3" height="17.3" fill="none" stroke="#1400ff" stroke-width="1.5"/>
<rect x="320.27" y="647.75" width="17.3" height="17.3" fill="none" stroke="#1400ff" stroke-width="1.5"/>
<rect x="345.41" y="649.85" width="17.3" height="17.3" fill="none" stroke="#1400ff" stroke-width="1.5"/>
<rect x="370.55" y="651.25" width="17.3" height="17.3" fill="none" stroke="#1400ff" stroke-width="1.5"/>
<rect x="395.69" y="652.25" width="17.3" height="17.3" fill="none" stroke="#1400ff" stroke-width="1.5"/>
<rect x="420.83" y="653.45" width="17.3" height="17.3" fill="none" stroke="#1400ff" stroke-width="1.5"/>
<rect x="445.97" y="654.35" width="17.3" height="17.3" fill="none" stroke="#1400ff" stroke-width="1.5"/>
<rect x="471.11" y="655.05" width="17.3" height="17.3" fill="none" stroke="#1400ff" stroke-width="1.5"/>
<rect x="496.25" y="655.65" width="17.3" height="17.3" fill="none" stroke="#1400ff" stroke-width="1.5"/>
<rect x="521.39" y="656.15" width="17.3" height="17.3" fill="none" stroke="#1400ff" stroke-width="1.5"/>
<rect x="546.53" y="656.55" width="17.3" height="17.3" fill="none" stroke="#1400ff" stroke-width="1.5"/>
<rect x="571.67" y="657.15" width="17.3" height="17.3" fill="none" stroke="#1400ff" stroke-width="1.5"/>
<rect x="596.81" y="657.55" width="17.3" height="17.3" fill="none" stroke="#1400ff" stroke-width="1.5"/>
<rect x="621.95" y="657.95" width="17.3" height="17.3" fill="none" stroke="#1400ff" stroke-width="1.5"/>
<rect x="647.09" y="658.35" width="17.3" height="17.3" fill="none" stroke="#1400ff" stroke-width="1.5"/>
<rect x="672.23" y="658.55" width="17.3" height="17.3" fill="none" stroke="#1400ff" stroke-width="1.5"/>
<rect x="697.37" y="658.75" width="17.3" height="17.3" fill="none" stroke="#1400ff" stroke-width="1.5"/>
<rect x="722.51" y="658.95" width="17.3" height="17.3" fill="none" stroke="#1400ff" stroke-width="1.5"/>
<rect x="747.65" y="659.25" width="17.3" height="17.3" fill="none" stroke="#1400ff" stroke-width="1.5"/>
<rect x="772.79" y="659.45" width="17.3" height="17.3" fill="none" stroke="#1400ff" stroke-width="1.5"/>
<rect x="797.93" y="659.65" width="17.3" height="17.3" fill="none" stroke="#1400ff" stroke-width="1.5"/>
<rect x="823.07" y="659.85" width="17.3" height="17.3" fill="none" stroke="#1400ff" stroke-width="1.5"/>
<rect x="848.21" y="660.05" width="17.3" height="17.3" fill="none" stroke="#1400ff" stroke-width="1.5"/>
<rect x="873.35" y="660.25" width="17.3" height="17.3" fill="none" stroke="#1400ff" stroke-width="1.5"/>
<rect x="898.49" y="660.25" width="17.3" height="17.3" fill="none" stroke="#1400ff" stroke-width="1.5"/>
<rect x="923.63" y="660.25" width="17.3" height="17.3" fill="none" stroke="#1400ff" stroke-width="1.5"/>
<rect x="948.77" y="660.25" width="17.3" height="17.3" fill="none" stroke="#1400ff" stroke-width="1.5"/>
<rect x="973.91" y="660.25" width="17.3" height="17.3" fill="none" stroke="#1400ff" stroke-width="1.5"/>
<circle cx="127.80" cy="543.50" r="8.65" fill="none" stroke="#ff2010" stroke-width="1.5"/>
<circle cx="152.94" cy="615.90" r="8.65" fill="none" stroke="#ff2010" stroke-width="1.5"/>
<circle cx="178.08" cy="634.30" r="8.65" fill="none" stroke="#ff2010" stroke-width="1.5"/>
<circle cx="203.22" cy="643.20" r="8.65" fill="none" stroke="#ff2010" stroke-width="1.5"/>
<circle cx="228.36" cy="648.50" r="8.65" fill="none" stroke="#ff2010" stroke-width="1.5"/>
<circle cx="253.50" cy="652.70" r="8.65" fill="none" stroke="#ff2010" stroke-width="1.5"/>
<circle cx="278.64" cy="655.70" r="8.65" fill="none" stroke="#ff2010" stroke-width="1.5"/>
<circle cx="303.78" cy="657.90" r="8.65" fill="none" stroke="#ff2010" stroke-width="1.5"/>
<circle cx="328.92" cy="659.20" r="8.65" fill="none" stroke="#ff2010" stroke-width="1.5"/>
<circle cx="354.06" cy="660.70" r="8.65" fill="none" stroke="#ff2010" stroke-width="1.5"/>
<circle cx="379.20" cy="662.00" r="8.65" fill="none" stroke="#ff2010" stroke-width="1.5"/>
<circle cx="404.34" cy="662.90" r="8.65" fill="none" stroke="#ff2010" stroke-width="1.5"/>
<circle cx="429.48" cy="663.80" r="8.65" fill="none" stroke="#ff2010" stroke-width="1.5"/>
<circle cx="454.62" cy="664.50" r="8.65" fill="none" stroke="#ff2010" stroke-width="1.5"/>
<circle cx="479.76" cy="665.30" r="8.65" fill="none" stroke="#ff2010" stroke-width="1.5"/>
<circle cx="504.90" cy="665.90" r="8.65" fill="none" stroke="#ff2010" stroke-width="1.5"/>
<circle cx="530.04" cy="666.40" r="8.65" fill="none" stroke="#ff2010" stroke-width="1.5"/>
<circle cx="555.18" cy="666.90" r="8.65" fill="none" stroke="#ff2010" stroke-width="1.5"/>
<circle cx="580.32" cy="667.40" r="8.65" fill="none" stroke="#ff2010" stroke-width="1.5"/>
<circle cx="605.46" cy="667.70" r="8.65" fill="none" stroke="#ff2010" stroke-width="1.5"/>
<circle cx="630.60" cy="668.00" r="8.65" fill="none" stroke="#ff2010" stroke-width="1.5"/>
<circle cx="655.74" cy="668.40" r="8.65" fill="none" stroke="#ff2010" stroke-width="1.5"/>
<circle cx="680.88" cy="668.70" r="8.65" fill="none" stroke="#ff2010" stroke-width="1.5"/>
<circle cx="706.02" cy="668.90" r="8.65" fill="none" stroke="#ff2010" stroke-width="1.5"/>
<circle cx="731.16" cy="669.20" r="8.65" fill="none" stroke="#ff2010" stroke-width="1.5"/>
<circle cx="756.30" cy="669.40" r="8.65" fill="none" stroke="#ff2010" stroke-width="1.5"/>
<circle cx="781.44" cy="669.60" r="8.65" fill="none" stroke="#ff2010" stroke-width="1.5"/>
<circle cx="806.58" cy="669.80" r="8.65" fill="none" stroke="#ff2010" stroke-width="1.5"/>
<circle cx="831.72" cy="670.00" r="8.65" fill="none" stroke="#ff2010" stroke-width="1.5"/>
<circle cx="856.86" cy="670.10" r="8.65" fill="none" stroke="#ff2010" stroke-width="1.5"/>
<circle cx="882.00" cy="670.20" r="8.65" fill="none" stroke="#ff2010" stroke-width="1.5"/>
<circle cx="907.14" cy="670.20" r="8.65" fill="none" stroke="#ff2010" stroke-width="1.5"/>
<circle cx="932.28" cy="670.20" r="8.65" fill="none" stroke="#ff2010" stroke-width="1.5"/>
<circle cx="957.42" cy="670.20" r="8.65" fill="none" stroke="#ff2010" stroke-width="1.5"/>
<circle cx="982.56" cy="670.20" r="8.65" fill="none" stroke="#ff2010" stroke-width="1.5"/>
</g>
<line x1="127.80" y1="702.5" x2="127.80" y2="705.90" stroke="#000" stroke-width="1.0"/>
<line x1="152.94" y1="702.5" x2="152.94" y2="708.70" stroke="#000" stroke-width="1.25"/>
<line x1="178.08" y1="702.5" x2="178.08" y2="705.90" stroke="#000" stroke-width="1.0"/>
<line x1="203.22" y1="702.5" x2="203.22" y2="705.90" stroke="#000" stroke-width="1.0"/>
<line x1="228.36" y1="702.5" x2="228.36" y2="705.90" stroke="#000" stroke-width="1.0"/>
<line x1="253.50" y1="702.5" x2="253.50" y2="708.70" stroke="#000" stroke-width="1.25"/>
<line x1="278.64" y1="702.5" x2="278.64" y2="705.90" stroke="#000" stroke-width="1.0"/>
<line x1="303.78" y1="702.5" x2="303.78" y2="705.90" stroke="#000" stroke-width="1.0"/>
<line x1="328.92" y1="702.5" x2="328.92" y2="705.90" stroke="#000" stroke-width="1.0"/>
<line x1="354.06" y1="702.5" x2="354.06" y2="708.70" stroke="#000" stroke-width="1.25"/>
<line x1="379.20" y1="702.5" x2="379.20" y2="705.90" stroke="#000" stroke-width="1.0"/>
<line x1="404.34" y1="702.5" x2="404.34" y2="705.90" stroke="#000" stroke-width="1.0"/>
<line x1="429.48" y1="702.5" x2="429.48" y2="705.90" stroke="#000" stroke-width="1.0"/>
<line x1="454.62" y1="702.5" x2="454.62" y2="708.70" stroke="#000" stroke-width="1.25"/>
<line x1="479.76" y1="702.5" x2="479.76" y2="705.90" stroke="#000" stroke-width="1.0"/>
<line x1="504.90" y1="702.5" x2="504.90" y2="705.90" stroke="#000" stroke-width="1.0"/>
<line x1="530.04" y1="702.5" x2="530.04" y2="705.90" stroke="#000" stroke-width="1.0"/>
<line x1="555.18" y1="702.5" x2="555.18" y2="708.70" stroke="#000" stroke-width="1.25"/>
<line x1="580.32" y1="702.5" x2="580.32" y2="705.90" stroke="#000" stroke-width="1.0"/>
<line x1="605.46" y1="702.5" x2="605.46" y2="705.90" stroke="#000" stroke-width="1.0"/>
<line x1="630.60" y1="702.5" x2="630.60" y2="705.90" stroke="#000" stroke-width="1.0"/>
<line x1="655.74" y1="702.5" x2="655.74" y2="708.70" stroke="#000" stroke-width="1.25"/>
<line x1="680.88" y1="702.5" x2="680.88" y2="705.90" stroke="#000" stroke-width="1.0"/>
<line x1="706.02" y1="702.5" x2="706.02" y2="705.90" stroke="#000" stroke-width="1.0"/>
<line x1="731.16" y1="702.5" x2="731.16" y2="705.90" stroke="#000" stroke-width="1.0"/>
<line x1="756.30" y1="702.5" x2="756.30" y2="708.70" stroke="#000" stroke-width="1.25"/>
<line x1="781.44" y1="702.5" x2="781.44" y2="705.90" stroke="#000" stroke-width="1.0"/>
<line x1="806.58" y1="702.5" x2="806.58" y2="705.90" stroke="#000" stroke-width="1.0"/>
<line x1="831.72" y1="702.5" x2="831.72" y2="705.90" stroke="#000" stroke-width="1.0"/>
<line x1="856.86" y1="702.5" x2="856.86" y2="708.70" stroke="#000" stroke-width="1.25"/>
<line x1="882.00" y1="702.5" x2="882.00" y2="705.90" stroke="#000" stroke-width="1.0"/>
<line x1="907.14" y1="702.5" x2="907.14" y2="705.90" stroke="#000" stroke-width="1.0"/>
<line x1="932.28" y1="702.5" x2="932.28" y2="705.90" stroke="#000" stroke-width="1.0"/>
<line x1="957.42" y1="702.5" x2="957.42" y2="708.70" stroke="#000" stroke-width="1.25"/>
<line x1="982.56" y1="702.5" x2="982.56" y2="705.90" stroke="#000" stroke-width="1.0"/>
<line x1="115.7" y1="689.60" x2="109.50" y2="689.60" stroke="#000" stroke-width="1.25"/>
<text transform="translate(103.60 700.50) scale(1 1.04)" class="tk" text-anchor="end">0.0</text>
<line x1="115.7" y1="609.20" x2="109.50" y2="609.20" stroke="#000" stroke-width="1.25"/>
<text transform="translate(103.60 620.10) scale(1 1.04)" class="tk" text-anchor="end">0.5</text>
<line x1="115.7" y1="528.80" x2="109.50" y2="528.80" stroke="#000" stroke-width="1.25"/>
<text transform="translate(103.60 539.70) scale(1 1.04)" class="tk" text-anchor="end">1.0</text>
<line x1="115.7" y1="673.52" x2="112.10" y2="673.52" stroke="#000" stroke-width="1.0"/>
<line x1="115.7" y1="657.44" x2="112.10" y2="657.44" stroke="#000" stroke-width="1.0"/>
<line x1="115.7" y1="641.36" x2="112.10" y2="641.36" stroke="#000" stroke-width="1.0"/>
<line x1="115.7" y1="625.28" x2="112.10" y2="625.28" stroke="#000" stroke-width="1.0"/>
<line x1="115.7" y1="593.12" x2="112.10" y2="593.12" stroke="#000" stroke-width="1.0"/>
<line x1="115.7" y1="577.04" x2="112.10" y2="577.04" stroke="#000" stroke-width="1.0"/>
<line x1="115.7" y1="560.96" x2="112.10" y2="560.96" stroke="#000" stroke-width="1.0"/>
<line x1="115.7" y1="544.88" x2="112.10" y2="544.88" stroke="#000" stroke-width="1.0"/>
<line x1="115.7" y1="512.72" x2="112.10" y2="512.72" stroke="#000" stroke-width="1.0"/>
<rect x="115.7" y="496.4" width="882.20" height="206.10" fill="none" stroke="#000" stroke-width="1.3"/>
<text x="120.4" y="519.6" class="pl">(c)</text>
<g transform="translate(29.6 616.35) rotate(-90)"><text x="-9.0" y="0" class="bb" transform="skewX(-16) scale(0.96 1)">&#x1D54D;</text><text transform="translate(20.5 13.6) scale(1 1.04)" class="sub">J</text></g>
<text transform="translate(153.34 736.00) scale(1 1.04)" class="tk" text-anchor="middle">1</text>
<text transform="translate(253.90 736.00) scale(1 1.04)" class="tk" text-anchor="middle">5</text>
<text transform="translate(354.46 736.00) scale(1 1.04)" class="tk" text-anchor="middle">9</text>
<text transform="translate(455.02 736.00) scale(1 1.04)" class="tk" text-anchor="middle">13</text>
<text transform="translate(555.58 736.00) scale(1 1.04)" class="tk" text-anchor="middle">17</text>
<text transform="translate(656.14 736.00) scale(1 1.04)" class="tk" text-anchor="middle">21</text>
<text transform="translate(756.70 736.00) scale(1 1.04)" class="tk" text-anchor="middle">25</text>
<text transform="translate(857.26 736.00) scale(1 1.04)" class="tk" text-anchor="middle">29</text>
<text transform="translate(957.82 736.00) scale(1 1.04)" class="tk" text-anchor="middle">33</text>
<text transform="translate(557.40 779.60) scale(1 1.04)" class="xl" text-anchor="middle">J</text>
<circle cx="376.60" cy="547.60" r="8.65" fill="none" stroke="#ff2010" stroke-width="1.5"/>
<rect x="368.15" y="593.15" width="17.3" height="17.3" fill="none" stroke="#1400ff" stroke-width="1.5"/>
<path d="M621.60 539.35L630.25 556.65L612.95 556.65Z" fill="none" stroke="#2a8a1a" stroke-width="1.5" stroke-linejoin="round"/>
<path d="M621.70 589.47L633.93 601.70L621.70 613.93L609.47 601.70Z" fill="#c82de6" stroke="#c82de6" stroke-width="0.5" stroke-linejoin="miter"/>
<text transform="translate(446.30 557.60) scale(1 1.02)" class="lg"><tspan class="it">LLL</tspan></text>
<text transform="translate(446.30 611.60) scale(1 1.02)" class="lg">1<tspan class="it">LL</tspan></text>
<text transform="translate(690.70 557.60) scale(1 1.02)" class="lg">2<tspan class="it">LL</tspan></text>
<text transform="translate(692.00 611.60) scale(1 1.02)" class="lg"><tspan class="it">Q</tspan><tspan dx="4.4">=</tspan><tspan dx="5.8">0</tspan></text>
</g>
</svg>
</body></html>
